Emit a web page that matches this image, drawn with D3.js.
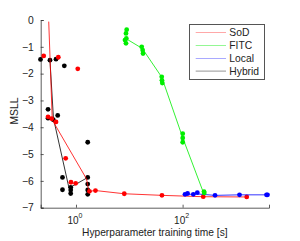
<!DOCTYPE html>
<html>
<head>
  <script src="https://d3js.org/d3.v7.min.js"></script>
  <style>
    body { margin: 0; background: #fff; }
    svg { font-family: "Liberation Sans", Arial, sans-serif; }
    .axis text { font-size: 10.3px; fill: #222; }
  </style>
</head>
<body>
  <svg id="chart" width="300" height="241"></svg>
  <script>
    // Per-run scatter points: training time [s], MSLL
    const sodTime = [0.248, 0.466, 1.08, 0.299, 0.350, 0.422, 0.641, 0.805, 0.986, 1.79, 2.32, 8.05, 41.0, 244, 1596];
    const sodMsll = [-1.34, -1.39, -1.82, -3.61, -3.68, -3.80, -5.16, -6.05, -6.09, -6.39, -6.36, -6.48, -6.54, -6.59, -6.60];

    const fitcTime = [8.93, 8.67, 8.30, 8.67, 8.79, 17.1, 17.8, 18.1, 40.6, 41.0, 41.6, 100.5, 100.5, 100.5, 252, 255];
    const fitcMsll = [-0.36, -0.50, -0.75, -0.87, -0.69, -1.00, -1.12, -1.25, -2.12, -2.25, -2.35, -4.24, -4.40, -4.56, -6.40, -6.45];

    const localTime = [111, 124, 159, 189, 406, 1169, 3750, 3917];
    const localMsll = [-6.50, -6.47, -6.50, -6.44, -6.54, -6.52, -6.52, -6.52];

    const hybridTime = [0.216, 0.325, 0.422, 0.604, 0.299, 0.299, 0.375, 0.454, 0.558, 0.558, 0.796, 0.796, 0.796, 1.66, 1.66, 1.66, 1.66, 1.66];
    const hybridMsll = [-1.47, -1.50, -1.46, -1.71, -3.33, -3.66, -3.72, -3.56, -5.87, -6.33, -6.24, -6.34, -6.47, -4.56, -5.87, -6.12, -6.34, -6.50];

    // Averaged curves
    const sodLineTime = [0.308, 0.359, 1.57, 1.75, 2.32, 8.05, 41.6, 244, 1596];
    const sodLineMsll = [-0.06, -3.73, -5.92, -6.39, -6.36, -6.48, -6.54, -6.59, -6.60];
    const fitcLineTime = [8.93, 17.5, 40.6, 100.5, 244];
    const fitcLineMsll = [-0.71, -1.06, -2.13, -4.39, -6.42];
    const localLineTime = [111, 171, 406, 1169, 3837];
    const localLineMsll = [-6.52, -6.48, -6.54, -6.52, -6.52];
    const hybridLineTime = [0.325, 0.378, 0.740, 1.57];
    const hybridLineMsll = [-1.50, -3.67, -6.27, -5.90];

    const yTicks = [0, -1, -2, -3, -4, -5, -6, -7];
    const xTicks = [1, 100];
    const legendNames = ["SoD", "FITC", "Local", "Hybrid"];
    const colors = ["#ff0000", "#00ee00", "#0000ff", "#000000"];

    const svg = d3.select("#chart");
    const plotLeft = 40.7, plotRight = 269, plotTop = 20, plotBottom = 207.7;

    const x = d3.scaleLog().domain([0.2178, 4178]).range([plotLeft, plotRight]);
    const y = d3.scaleLinear().domain([-7, 0]).range([plotBottom, plotTop]);

    // Axes (ticks point inward like MATLAB)
    const yAxis = svg.append("g").attr("class", "axis")
      .attr("transform", `translate(${plotLeft},0)`)
      .call(d3.axisLeft(y).tickValues(yTicks).tickSize(-3).tickPadding(7)
        .tickFormat(d => d === 0 ? "0" : "\u2212" + Math.abs(d)));
    const xAxis = svg.append("g").attr("class", "axis")
      .attr("transform", `translate(0,${plotBottom})`)
      .call(d3.axisBottom(x).tickValues(xTicks).tickSize(-3).tickFormat(""));
    [yAxis, xAxis].forEach(g => {
      g.select(".domain").attr("stroke", "#333").attr("stroke-width", 0.8);
      g.selectAll(".tick line").attr("stroke", "#333").attr("stroke-width", 0.8);
    });

    // x tick labels as 10^n
    xTicks.forEach(t => {
      const lbl = svg.append("text").attr("x", x(t) - 8.5).attr("y", 223.5)
        .attr("font-size", "10px").attr("fill", "#222");
      lbl.append("tspan").text("10");
      lbl.append("tspan").attr("dy", -6).attr("font-size", "7px").text(Math.round(Math.log10(t)));
    });

    svg.append("text").attr("x", (plotLeft + plotRight) / 2).attr("y", 235.5)
      .attr("text-anchor", "middle").attr("font-size", "10.2px").attr("fill", "#222")
      .text("Hyperparameter training time [s]");
    svg.append("text").attr("transform", "translate(18,111) rotate(-90)")
      .attr("text-anchor", "middle").attr("font-size", "10.3px").attr("fill", "#222")
      .text("MSLL");

    const line = d3.line().x(d => x(d[0])).y(d => y(d[1]));
    const zip = (a, b) => a.map((v, i) => [v, b[i]]);

    const series = [
      { pts: zip(hybridTime, hybridMsll), ln: zip(hybridLineTime, hybridLineMsll), c: colors[3] },
      { pts: zip(sodTime, sodMsll), ln: zip(sodLineTime, sodLineMsll), c: colors[0] },
      { pts: zip(localTime, localMsll), ln: zip(localLineTime, localLineMsll), c: colors[2] },
      { pts: zip(fitcTime, fitcMsll), ln: zip(fitcLineTime, fitcLineMsll), c: colors[1] }
    ];

    series.forEach(s => {
      svg.append("path").datum(s.ln)
        .attr("fill", "none").attr("stroke", s.c).attr("stroke-width", 0.8)
        .attr("d", line);
      svg.append("g").selectAll("circle").data(s.pts).enter().append("circle")
        .attr("cx", d => x(d[0])).attr("cy", d => y(d[1]))
        .attr("r", 2.4).attr("fill", s.c);
    });

    // Legend
    const lg = svg.append("g");
    lg.append("rect").attr("x", 189.5).attr("y", 24.5).attr("width", 75).attr("height", 55)
      .attr("fill", "#fff").attr("stroke", "#555").attr("stroke-width", 1);
    legendNames.forEach((name, i) => {
      const ly = 32.7 + i * 12.8;
      lg.append("line").attr("x1", 195.7).attr("x2", 226).attr("y1", ly).attr("y2", ly)
        .attr("stroke", colors[i]).attr("stroke-width", 0.6).attr("opacity", 0.7);
      lg.append("text").attr("x", 229.3).attr("y", ly + 3.7)
        .attr("font-size", "10.3px").attr("fill", "#222").text(name);
    });
  </script>
</body>
</html>
